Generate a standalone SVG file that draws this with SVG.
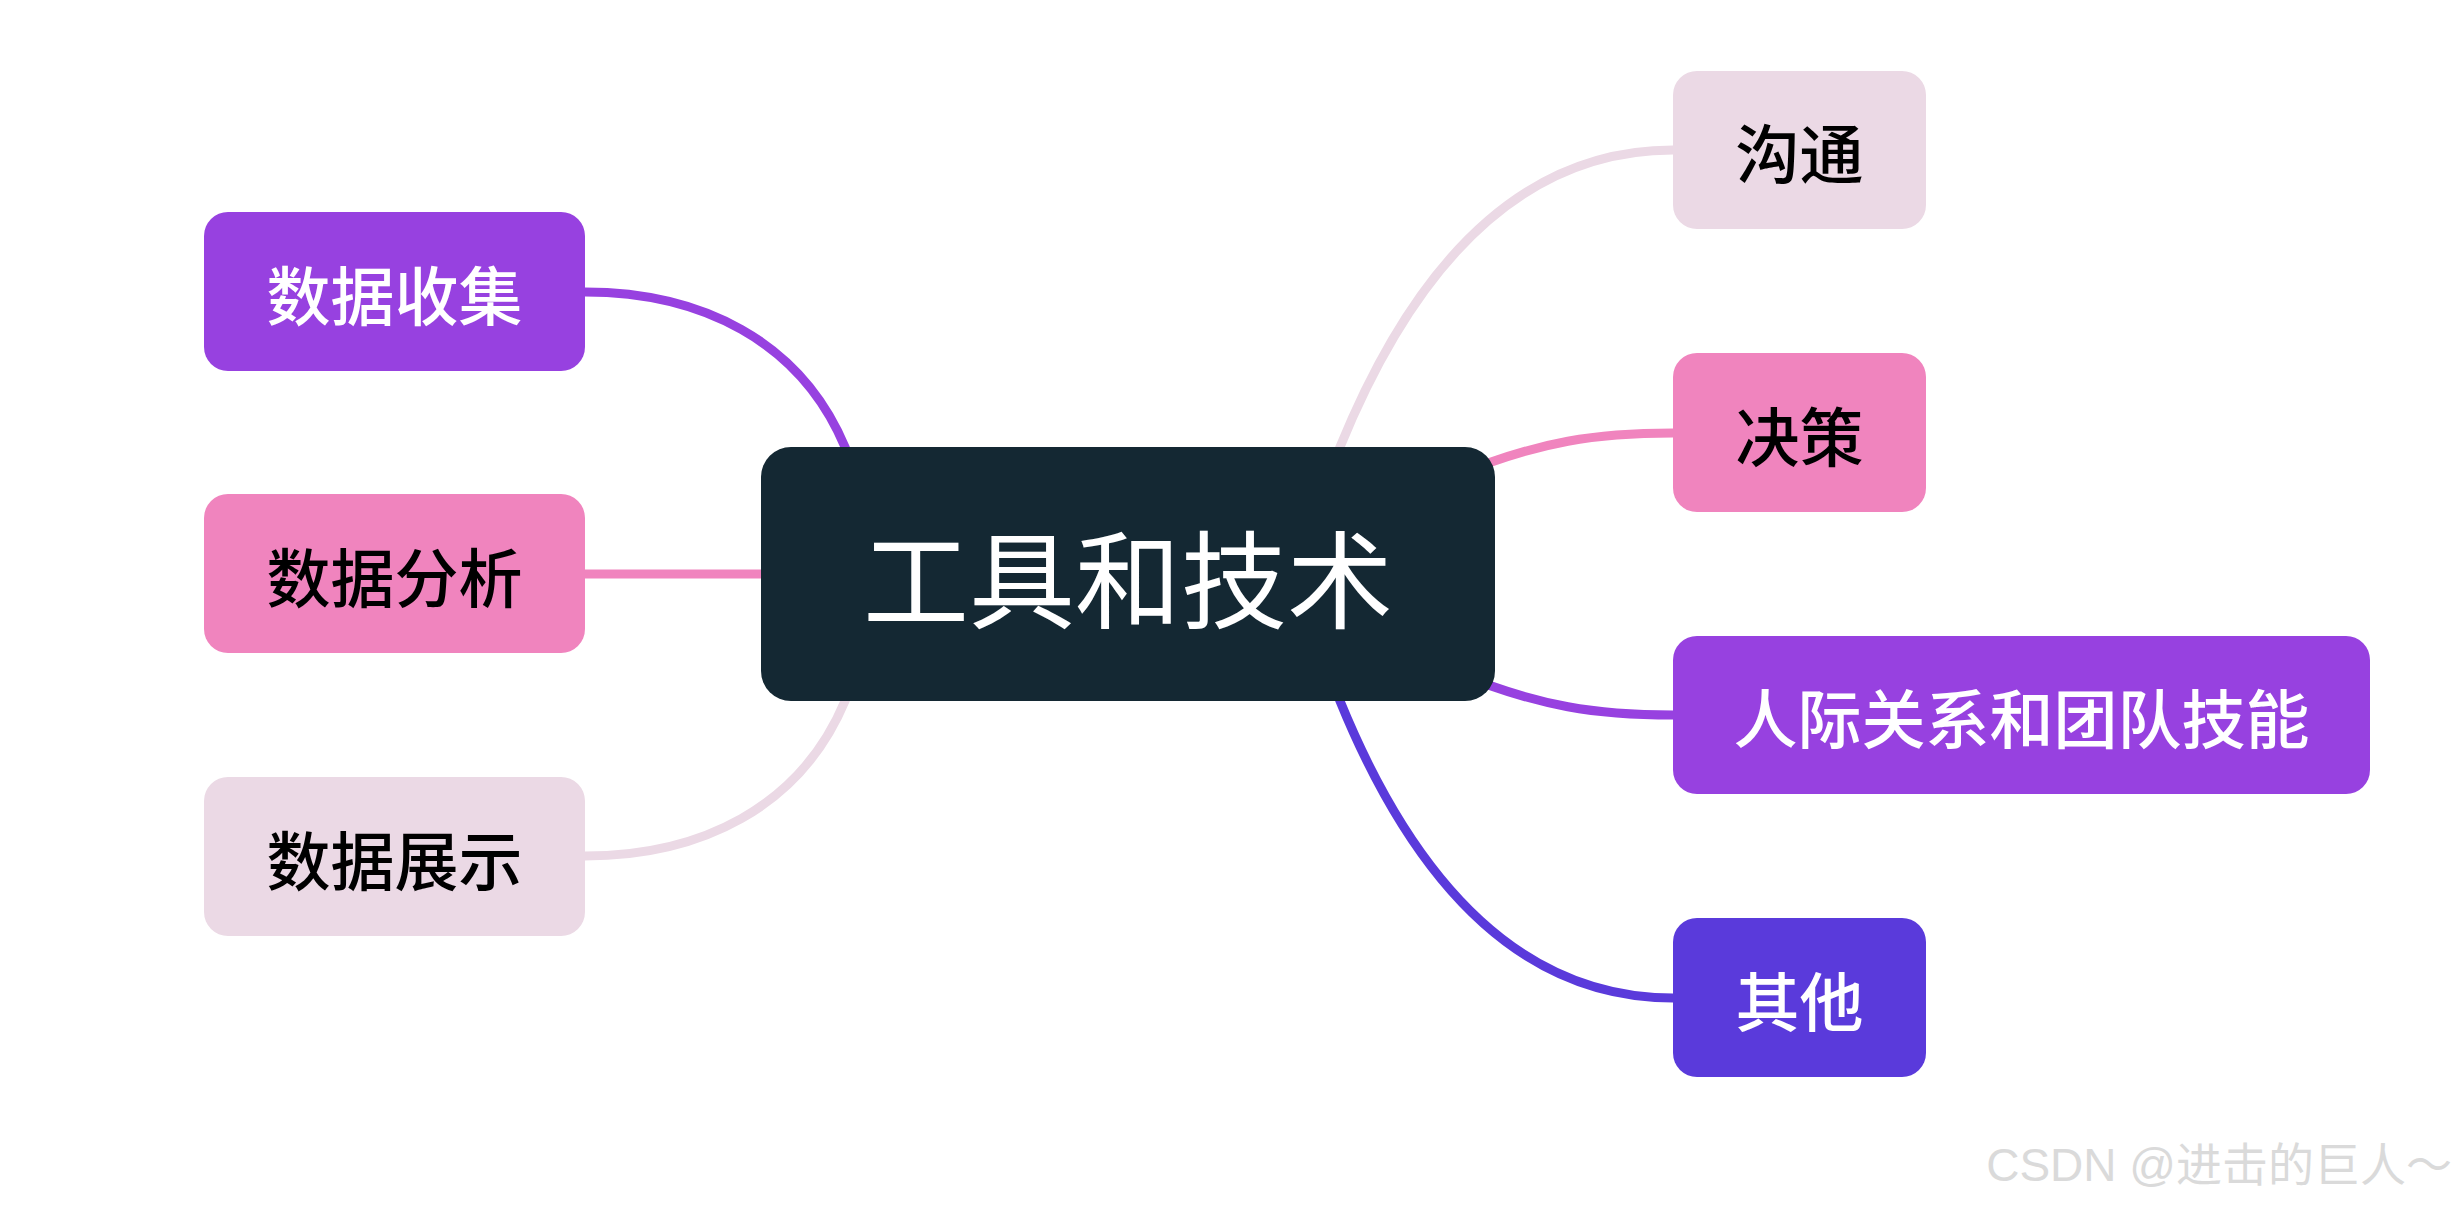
<svg xmlns="http://www.w3.org/2000/svg" width="2464" height="1206" viewBox="0 0 2464 1206">
<style>
.cn{fill:none;stroke-width:9;stroke-linecap:butt}
.t{font-family:"Noto Sans CJK SC","Noto Sans",sans-serif;text-anchor:middle;dominant-baseline:central}
.leaf{font-size:64px;font-weight:500}
.w{fill:#ffffff}
.b{fill:#000000}
.purple{fill:#9741E0}
.pink{fill:#F084BE}
.light{fill:#EBD9E5}
.indigo{fill:#5A3ADB}
</style>
<rect width="2464" height="1206" fill="#ffffff"/>
<g id="connectors">
<path class="cn" stroke="#9741E0" d="M855,471 L845,447 C800,340 700,292 585,292"/>
<path class="cn" stroke="#F084BE" d="M585,574 L800,574"/>
<path class="cn" stroke="#EBD9E5" d="M855,677 L845,701 C800,808 700,856 585,856"/>
<path class="cn" stroke="#EBD9E5" d="M1329,475 L1340,447 C1400,300 1500,150 1673,150"/>
<path class="cn" stroke="#F084BE" d="M1450,478 C1540,440 1600,433 1673,433"/>
<path class="cn" stroke="#9741E0" d="M1450,670 C1540,708 1600,715 1673,715"/>
<path class="cn" stroke="#5A3ADB" d="M1329,673 L1340,701 C1400,848 1500,998 1673,998"/>
</g>
<g id="root">
<rect x="761" y="447" width="734" height="254" rx="30" fill="#142833"/>
<text class="t w" x="1128" y="574" font-size="106">工具和技术</text>
</g>
<g id="node-collect">
<rect class="purple" x="204" y="212" width="381" height="159" rx="24"/>
<text class="t leaf w" x="394.5" y="291.5">数据收集</text>
</g>
<g id="node-analyze">
<rect class="pink" x="204" y="494" width="381" height="159" rx="24"/>
<text class="t leaf b" x="394.5" y="573.5">数据分析</text>
</g>
<g id="node-display">
<rect class="light" x="204" y="777" width="381" height="159" rx="24"/>
<text class="t leaf b" x="394.5" y="856.5">数据展示</text>
</g>
<g id="node-comm">
<rect class="light" x="1673" y="71" width="253" height="158" rx="24"/>
<text class="t leaf b" x="1799.5" y="150">沟通</text>
</g>
<g id="node-decision">
<rect class="pink" x="1673" y="353" width="253" height="159" rx="24"/>
<text class="t leaf b" x="1799.5" y="432.5">决策</text>
</g>
<g id="node-team">
<rect class="purple" x="1673" y="636" width="697" height="158" rx="24"/>
<text class="t leaf w" x="2021.5" y="715">人际关系和团队技能</text>
</g>
<g id="node-other">
<rect class="indigo" x="1673" y="918" width="253" height="159" rx="24"/>
<text class="t leaf w" x="1799.5" y="997.5">其他</text>
</g>
<text x="2452" y="1181" font-family="Liberation Sans,Noto Sans CJK SC,sans-serif" font-size="46" fill="#DADADA" text-anchor="end">CSDN @进击的巨人～</text>
</svg>
